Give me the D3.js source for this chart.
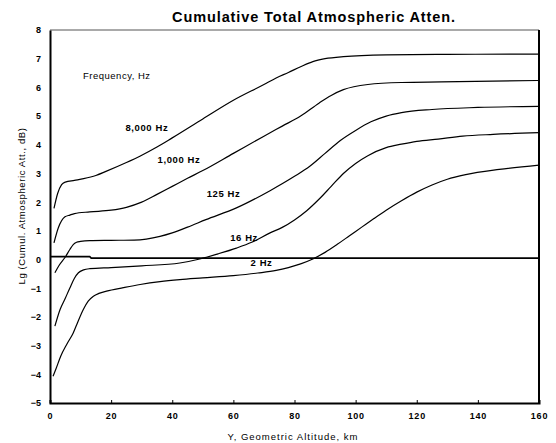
<!DOCTYPE html>
<html>
<head>
<meta charset="utf-8">
<script src="https://cdn.jsdelivr.net/npm/d3@7"></script>
<style>
  html, body { margin: 0; padding: 0; background: #fff; }
  svg { display: block; font-family: Arial, "Liberation Sans", sans-serif; }
</style>
</head>
<body>
<svg id="chart" width="556" height="443"></svg>
<script>
// ---- data ----
const title = "Cumulative Total Atmospheric Atten.";
const xLabel = "Y, Geometric Altitude, km";
const yLabel = "Lg (Cumul. Atmospheric Att., dB)";
const legendTitle = "Frequency, Hz";
const xTicks = [0, 20, 40, 60, 80, 100, 120, 140, 160];
const yTicks = [-5, -4, -3, -2, -1, 0, 1, 2, 3, 4, 5, 6, 7, 8];

const seriesNames = ["8,000 Hz", "1,000 Hz", "125 Hz", "16 Hz", "2 Hz"];

const alt8000 = [1.3, 2.5, 3.8, 5, 8, 11, 15, 18.5, 25, 29.4, 35, 40, 50, 60, 70, 74, 78, 82, 86, 90, 96, 110, 130, 160];
const val8000 = [1.78, 2.3, 2.61, 2.7, 2.76, 2.82, 2.93, 3.08, 3.38, 3.6, 3.92, 4.24, 4.9, 5.55, 6.1, 6.33, 6.52, 6.72, 6.9, 7.0, 7.07, 7.13, 7.15, 7.16];

const alt1000 = [1.3, 2.7, 4.9, 6.5, 8, 13, 20, 25, 30, 35, 40, 45, 50, 60, 70, 76, 82, 88, 92, 96, 104, 115, 128, 160];
const val1000 = [0.58, 1.1, 1.49, 1.55, 1.6, 1.66, 1.72, 1.82, 2.0, 2.27, 2.55, 2.83, 3.1, 3.7, 4.3, 4.65, 5.0, 5.45, 5.72, 5.92, 6.1, 6.17, 6.19, 6.24];

const alt125 = [1.6, 3, 4.9, 6.5, 7.6, 8.7, 10, 13, 20, 27.5, 36, 40, 45, 51, 61, 72, 80, 85, 90, 95, 100, 105, 110, 115, 125, 140, 160];
const val125 = [-0.46, -0.2, 0.07, 0.35, 0.52, 0.6, 0.63, 0.66, 0.67, 0.68, 0.81, 0.93, 1.13, 1.39, 1.8, 2.4, 2.9, 3.25, 3.7, 4.15, 4.5, 4.8, 5.0, 5.12, 5.23, 5.3, 5.34];

const alt16 = [1.6, 3.3, 5, 6.5, 8, 9.3, 11, 13, 20, 30, 42.5, 49, 55, 61, 66, 72, 76, 80, 84, 88, 92, 96, 100, 104, 110, 115, 120, 127, 135, 145, 160];
const val16 = [-2.32, -1.74, -1.35, -0.99, -0.65, -0.46, -0.36, -0.32, -0.28, -0.22, -0.12, 0.02, 0.2, 0.4, 0.6, 0.93, 1.12, 1.38, 1.7, 2.1, 2.55, 3.0, 3.35, 3.62, 3.9, 4.02, 4.12, 4.2, 4.3, 4.36, 4.42];

const alt2 = [1, 2, 3.5, 5.5, 7.6, 9, 10.9, 12.5, 14.2, 16, 18.5, 24, 29.5, 36, 42.5, 50, 60, 68, 74, 78, 82, 86, 90, 94, 98, 102, 106, 110, 115, 120, 125, 130, 136, 147, 160];
const val2 = [-4.07, -3.8, -3.37, -2.95, -2.56, -2.2, -1.74, -1.45, -1.28, -1.18, -1.1, -0.98, -0.87, -0.77, -0.7, -0.64, -0.56, -0.47, -0.38, -0.28, -0.15, 0.02, 0.25, 0.53, 0.83, 1.13, 1.43, 1.72, 2.05, 2.35, 2.6, 2.8, 2.96, 3.14, 3.29];

const altRef = [0, 13, 13.5, 160];
const valRef = [0.1, 0.1, 0.05, 0.05];

// label anchor positions in data units (altitude, value)
const labelAlt = [31.7, 42.2, 56.8, 63.5, 69.2];
const labelVal = [4.49, 3.38, 2.18, 0.64, -0.23];
const legendTitlePos = [10.8, 6.29];

// ---- chart ----
const svg = d3.select("#chart");
const x = d3.scaleLinear().domain([0, 160]).range([50, 539]);
const y = d3.scaleLinear().domain([-5, 8]).range([403, 30]);

// title
svg.append("text")
  .attr("x", 314).attr("y", 22)
  .attr("text-anchor", "middle")
  .attr("font-size", 14.5).attr("font-weight", "bold")
  .attr("letter-spacing", 0.9)
  .text(title);

// frame (top & right)
svg.append("line").attr("x1", x(0)).attr("x2", x(160)).attr("y1", y(8)).attr("y2", y(8))
  .attr("stroke", "#555").attr("stroke-width", 1);
svg.append("line").attr("x1", x(160)).attr("x2", x(160)).attr("y1", y(8)).attr("y2", y(-5))
  .attr("stroke", "#000").attr("stroke-width", 2);

// axes
const xAxis = d3.axisBottom(x).tickValues(xTicks).tickSize(-3).tickPadding(10).tickFormat(d3.format("d"));
const gx = svg.append("g").attr("transform", `translate(0,${y(-5)})`).call(xAxis);
gx.select(".domain").attr("stroke", "#000").attr("stroke-width", 2);
gx.selectAll("text").attr("font-size", 9).attr("font-weight", "bold").attr("font-family", "Arial, 'Liberation Sans', sans-serif").attr("letter-spacing", 0.8);

const yAxis = d3.axisLeft(y).tickValues(yTicks).tickSize(0).tickPadding(9).tickFormat(d3.format("d"));
const gy = svg.append("g").attr("transform", `translate(${x(0)},0)`).call(yAxis);
gy.select(".domain").attr("stroke", "#000").attr("stroke-width", 2);
gy.selectAll("text").attr("font-size", 9).attr("font-weight", "bold").attr("font-family", "Arial, 'Liberation Sans', sans-serif");

// axis titles
svg.append("text")
  .attr("x", 293).attr("y", 440)
  .attr("text-anchor", "middle")
  .attr("font-size", 9.5).attr("letter-spacing", 1)
  .text(xLabel);
svg.append("text")
  .attr("transform", `translate(25,206) rotate(-90)`)
  .attr("text-anchor", "middle")
  .attr("font-size", 9.5).attr("letter-spacing", 0.6)
  .text(yLabel);

// curves
const line = d3.line().x(d => x(d[0])).y(d => y(d[1])).curve(d3.curveMonotoneX);
const series = [
  [alt8000, val8000],
  [alt1000, val1000],
  [alt125, val125],
  [alt16, val16],
  [alt2, val2]
];
svg.append("path")
  .attr("d", d3.line().x(d => x(d[0])).y(d => y(d[1]))(d3.zip(altRef, valRef)))
  .attr("fill", "none").attr("stroke", "#000").attr("stroke-width", 1.6);
series.forEach(([a, v]) => {
  svg.append("path")
    .attr("d", line(d3.zip(a, v)))
    .attr("fill", "none").attr("stroke", "#000").attr("stroke-width", 1.2);
});

// labels
svg.append("text")
  .attr("x", x(legendTitlePos[0])).attr("y", y(legendTitlePos[1]))
  .attr("font-size", 9.5).attr("letter-spacing", 0.5)
  .text(legendTitle);
seriesNames.forEach((n, i) => {
  svg.append("text")
    .attr("x", x(labelAlt[i])).attr("y", y(labelVal[i]))
    .attr("text-anchor", "middle")
    .attr("font-size", 9.5).attr("font-weight", "bold").attr("letter-spacing", 0.6)
    .text(n);
});
</script>
</body>
</html>
